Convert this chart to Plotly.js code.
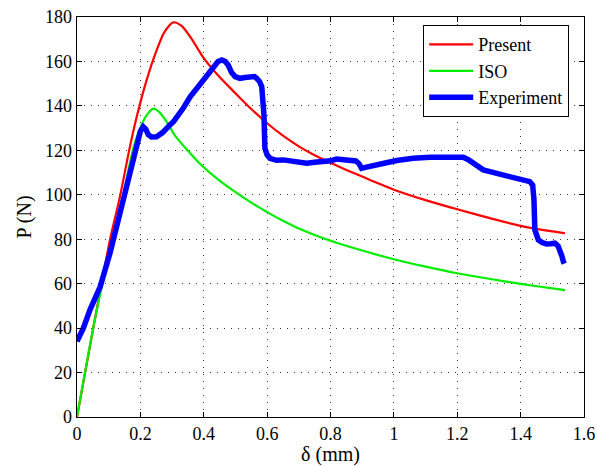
<!DOCTYPE html>
<html>
<head>
<meta charset="utf-8">
<script src="https://cdn.plot.ly/plotly-3.0.1.min.js"></script>
<style>html,body{margin:0;padding:0;background:#fff;}#chart{width:597px;height:466px;}</style>
</head>
<body>
<div id="chart"></div>
<script>
// Present model
const presentX = [0, 0.05, 0.08, 0.104, 0.136, 0.167, 0.19, 0.22, 0.25, 0.275, 0.304, 0.33, 0.36, 0.4, 0.45, 0.5, 0.55, 0.6, 0.65, 0.7, 0.75, 0.8, 0.85, 0.9, 0.95, 1.0, 1.1, 1.2, 1.3, 1.4, 1.5, 1.54];
const presentP = [0, 39, 62, 79.7, 99.5, 121.6, 136, 151.7, 164.5, 173, 177.6, 176, 170.5, 161.5, 153, 145.7, 138.6, 132.2, 126.6, 121.8, 117.8, 114.4, 111.2, 108.2, 105.2, 102.3, 97.6, 93.5, 89.6, 86, 83.5, 82.7];
// ISO model
const isoX = [0, 0.052, 0.083, 0.115, 0.146, 0.175, 0.197, 0.22, 0.241, 0.26, 0.283, 0.31, 0.357, 0.388, 0.44, 0.49, 0.55, 0.6, 0.65, 0.7, 0.75, 0.8, 0.9, 1.0, 1.1, 1.2, 1.3, 1.4, 1.5, 1.54];
const isoP = [0, 40.6, 61.7, 80, 99.5, 119.5, 129.2, 135.8, 138.8, 137.2, 132.8, 126.5, 118.7, 114, 107.5, 102.2, 96.5, 92.2, 88.3, 84.8, 81.9, 79.3, 74.9, 71, 67.7, 64.7, 62.2, 59.9, 57.9, 57.1];
// Experiment
const expX = [0, 0.02, 0.041, 0.073, 0.104, 0.136, 0.167, 0.188, 0.2, 0.209, 0.217, 0.225, 0.235, 0.251, 0.27, 0.293, 0.304, 0.335, 0.357, 0.388, 0.41, 0.43, 0.445, 0.457, 0.468, 0.477, 0.488, 0.499, 0.514, 0.53, 0.546, 0.56, 0.567, 0.576, 0.583, 0.587, 0.59, 0.593, 0.6, 0.609, 0.63, 0.651, 0.69, 0.725, 0.75, 0.777, 0.8, 0.819, 0.84, 0.861, 0.88, 0.89, 0.898, 0.91, 0.93, 0.956, 0.98, 1.009, 1.035, 1.061, 1.114, 1.16, 1.198, 1.219, 1.235, 1.251, 1.265, 1.282, 1.3, 1.324, 1.35, 1.377, 1.405, 1.429, 1.438, 1.442, 1.445, 1.45, 1.456, 1.468, 1.482, 1.495, 1.508, 1.518, 1.524, 1.53, 1.535, 1.538];
const expP = [34, 40, 48.2, 58.6, 73.7, 91.7, 111.2, 123.2, 128.5, 130.6, 129.5, 127, 126, 126.1, 128, 131.4, 132.8, 138.9, 144.1, 149.6, 154, 157.6, 160, 160.7, 160, 158.4, 155, 153.2, 152.4, 152.8, 153.2, 153.2, 152.4, 151, 148.7, 143, 135.9, 120.9, 118, 116.4, 115.5, 115.7, 114.8, 114.2, 114.6, 114.9, 115.3, 116.1, 116, 115.7, 115.2, 114, 111.9, 112.3, 112.8, 113.4, 114.5, 115.4, 116, 116.4, 116.9, 117, 117.1, 116.9, 115.8, 114.2, 112.5, 111.2, 110.5, 109.7, 108.5, 107.4, 106.6, 105.9, 104.4, 98, 84.2, 81, 79.7, 78.5, 77.9, 78, 78.2, 77, 75.2, 72.5, 69.9, 69];

const xTicks = [0, 0.2, 0.4, 0.6, 0.8, 1, 1.2, 1.4, 1.6];
const xTickText = ['0', '0.2', '0.4', '0.6', '0.8', '1', '1.2', '1.4', '1.6'];
const yTicks = [0, 20, 40, 60, 80, 100, 120, 140, 160, 180];

const font = 'Liberation Serif';

const traces = [
  {x: presentX, y: presentP, name: 'Present', mode: 'lines', line: {color: '#ff0000', width: 2.2, shape: 'spline', smoothing: 0.8}},
  {x: isoX, y: isoP, name: 'ISO', mode: 'lines', line: {color: '#00ee00', width: 2.2, shape: 'spline', smoothing: 0.8}},
  {x: expX, y: expP, name: 'Experiment', mode: 'lines', line: {color: '#0000ff', width: 5.5}}
];

const axisCommon = {
  showline: true, linecolor: '#000', linewidth: 1.3, mirror: 'ticks',
  ticks: 'inside', ticklen: 5, tickcolor: '#000', tickwidth: 1,
  showgrid: true, gridcolor: '#333', gridwidth: 1, griddash: '1px,6px',
  zeroline: false, tickfont: {family: font, size: 18, color: '#000'}
};

const layout = {
  width: 597, height: 466,
  margin: {l: 77, r: 13, t: 17, b: 49},
  paper_bgcolor: '#fff', plot_bgcolor: '#fff',
  font: {family: font, color: '#000'},
  showlegend: true,
  legend: {x: 0.6824, y: 0.98, xanchor: 'left', yanchor: 'top', bordercolor: '#000', borderwidth: 1.2, bgcolor: '#fff',
           font: {family: font, size: 18, color: '#000'}, tracegroupgap: 0, itemwidth: 44},
  xaxis: Object.assign({}, axisCommon, {range: [0, 1.6], tickvals: xTicks, ticktext: xTickText,
           title: {text: 'δ (mm)', font: {family: font, size: 20, color: '#000'}, standoff: 0}}),
  yaxis: Object.assign({}, axisCommon, {range: [0, 180], tickvals: yTicks,
           title: {text: 'P (N)', font: {family: font, size: 20, color: '#000'}, standoff: 8}})
};

Plotly.newPlot('chart', traces, layout, {displayModeBar: false, staticPlot: true});
</script>
</body>
</html>
